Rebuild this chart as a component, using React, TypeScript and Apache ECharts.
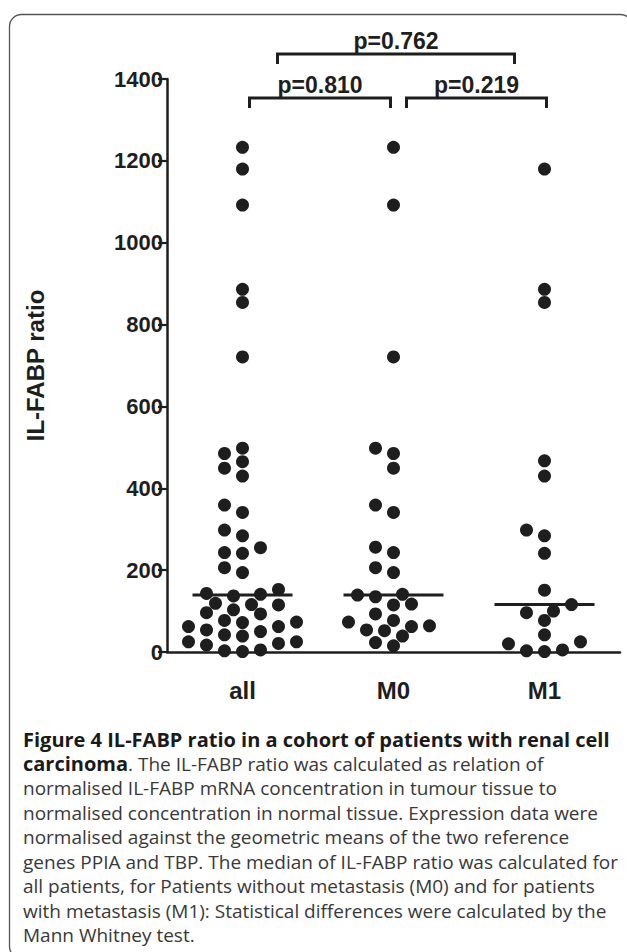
import React, { useEffect, useRef } from "react";
import * as echarts from "echarts";

// ---------- data ----------
const categories = ["all", "M0", "M1"];
const allValues = [1233, 1180, 1092, 886, 854, 721, 498, 485, 465, 449, 430, 359, 341, 298, 284, 255, 243, 241, 206, 194, 153, 143, 141, 137, 119, 116, 115, 103, 96, 93, 77, 73, 72, 62, 62, 54, 50, 42, 39, 25, 25, 21, 17, 5, 3, 1];
const m0Values = [1233, 1092, 721, 498, 485, 449, 359, 341, 256, 243, 206, 194, 141, 139, 135, 117, 115, 93, 77, 73, 64, 62, 54, 52, 39, 23, 15];
const m1Values = [1180, 886, 854, 467, 430, 298, 284, 241, 151, 116, 100, 96, 77, 42, 25, 20, 5, 3, 1];
const groups = [allValues, m0Values, m1Values];
const yMin = 0;
const yMax = 1400;
const yInterval = 200;
const yTitle = "IL-FABP ratio";
const pPairs = [[0, 1], [1, 2], [0, 2]];
const pLabels = ["p=0.810", "p=0.219", "p=0.762"];
const captionLines = [
  "{b|Figure 4 IL-FABP ratio in a cohort of patients with renal cell}",
  "{b|carcinoma}{r|. The IL-FABP ratio was calculated as relation of}",
  "{r|normalised IL-FABP mRNA concentration in tumour tissue to}",
  "{r|normalised concentration in normal tissue. Expression data were}",
  "{r|normalised against the geometric means of the two reference}",
  "{r|genes PPIA and TBP. The median of IL-FABP ratio was calculated for}",
  "{r|all patients, for Patients without metastasis (M0) and for patients}",
  "{r|with metastasis (M1): Statistical differences were calculated by the}",
  "{r|Mann Whitney test.}",
];

// ---------- layout / style ----------
const INK = "#1e1e1e";
const AXIS_FONT = '"Liberation Sans", Arial, sans-serif';
const CAPTION_FONT = '"Open Sans", sans-serif';
const DOT = 13;
const SWARM_MIN_DIST = 13;
const SWARM_STEP = 9;
const bracketInsetL = [7, 13, 35];
const bracketInsetR = [-3, 2, -30];
const bracketRise = [19, 19, -25];
const bracketLeg = 10;
const captionTop = 739;
const captionPitch = 24.5;

function median(v: number[]) {
  const s = [...v].sort((a, b) => a - b);
  const n = s.length;
  return n % 2 ? s[(n - 1) / 2] : (s[n / 2 - 1] + s[n / 2]) / 2;
}

// grid beeswarm in pixel space (column-scatter style): nearest free slot to the centre
function swarm(pys: number[]): number[] {
  const D = SWARM_MIN_DIST;
  const order = pys.map((_, i) => i).sort((a, b) => pys[b] - pys[a]);
  const placed: { x: number; y: number }[] = [];
  const res = new Array(pys.length).fill(0);
  const cands: number[] = [0];
  for (let k = 1; k <= 16; k++) cands.push(-k * SWARM_STEP, k * SWARM_STEP);
  for (const i of order) {
    const y = pys[i];
    for (const c of cands) {
      if (placed.every((p) => (p.x - c) ** 2 + (p.y - y) ** 2 >= D * D - 0.01)) {
        res[i] = c;
        placed.push({ x: c, y });
        break;
      }
    }
  }
  return res;
}

export default function App() {
  const ref = useRef<HTMLDivElement>(null);
  useEffect(() => {
    document.body.style.margin = "0";
    const chart = echarts.init(ref.current!, null, { renderer: "svg" });
    const base: any = {
      animation: false,
      backgroundColor: "#ffffff",
      grid: { left: 167, right: 7, top: 79, bottom: 300, containLabel: false },
      xAxis: [
        {
          type: "category",
          data: categories,
          boundaryGap: true,
          axisLine: { onZero: false, lineStyle: { color: INK, width: 2.5 } },
          axisTick: { show: false },
          axisLabel: { color: INK, fontSize: 24, fontWeight: "bold", fontFamily: AXIS_FONT, margin: 26 },
          splitLine: { show: false },
        },
        { type: "value", min: -0.5, max: 2.5, show: false },
      ],
      yAxis: {
        type: "value",
        min: yMin,
        max: yMax,
        interval: yInterval,
        name: yTitle,
        nameLocation: "middle",
        nameGap: 120,
        nameTextStyle: { color: INK, fontSize: 24, fontWeight: "bold", fontFamily: AXIS_FONT },
        axisLine: { show: true, onZero: false, lineStyle: { color: INK, width: 2.5 } },
        axisTick: { show: true, length: 9, lineStyle: { color: INK, width: 2.2 } },
        axisLabel: {
          color: INK,
          fontSize: 22,
          fontWeight: "bold",
          fontFamily: AXIS_FONT,
          margin: 4,
          formatter: (v: number) => String(v),
        },
        splitLine: { show: false },
      },
      series: [],
    };
    chart.setOption(base);

    const x0 = chart.convertToPixel({ xAxisIndex: 1 } as any, 0) as unknown as number;
    const x1 = chart.convertToPixel({ xAxisIndex: 1 } as any, 1) as unknown as number;
    const bandPx = x1 - x0;

    const pointData: number[][] = [];
    groups.forEach((vals, gi) => {
      const pys = vals.map((v) => chart.convertToPixel({ yAxisIndex: 0 } as any, v) as unknown as number);
      const offs = swarm(pys);
      vals.forEach((v, i) => pointData.push([gi + offs[i] / bandPx, v]));
    });
    const medianData = groups.map((vals, gi) => [gi, median(vals)]);

    const graphics: any[] = [
      {
        type: "rect",
        silent: true,
        shape: { x: 9.5, y: 14.5, width: 623, height: 944, r: 12 },
        style: { fill: "none", stroke: "#555", lineWidth: 1.3 },
      },
    ];
    captionLines.forEach((line, i) => {
      graphics.push({
        type: "text",
        x: 23,
        y: captionTop + i * captionPitch,
        silent: true,
        style: {
          text: line,
          verticalAlign: "middle",
          align: "left",
          rich: {
            b: { fontFamily: CAPTION_FONT, fontSize: 20, fontWeight: "bold", fill: "#1a1a1a" },
            r: { fontFamily: CAPTION_FONT, fontSize: 19, fontWeight: "normal", fill: "#383838" },
          },
        },
      });
    });

    chart.setOption({
      graphic: graphics,
      series: [
        {
          type: "scatter",
          xAxisIndex: 1,
          yAxisIndex: 0,
          symbol: "circle",
          symbolSize: DOT,
          itemStyle: { color: INK, opacity: 1 },
          data: pointData,
          z: 3,
        },
        {
          type: "scatter",
          xAxisIndex: 1,
          yAxisIndex: 0,
          symbol: "rect",
          symbolSize: [100, 3],
          itemStyle: { color: INK, opacity: 1 },
          data: medianData,
          z: 4,
        },
        {
          type: "custom",
          xAxisIndex: 1,
          yAxisIndex: 0,
          clip: false,
          data: pPairs.map((p, i) => [p[0], p[1], i]),
          renderItem: (params: any, api: any) => {
            const i = params.dataIndex;
            const a = api.coord([api.value(0), yMax]);
            const b = api.coord([api.value(1), yMax]);
            const xl = a[0] + bracketInsetL[i];
            const xr = b[0] + bracketInsetR[i];
            const yl = a[1] + bracketRise[i];
            return {
              type: "group",
              children: [
                {
                  type: "polyline",
                  shape: { points: [[xl, yl + bracketLeg], [xl, yl], [xr, yl], [xr, yl + bracketLeg]] },
                  style: { stroke: INK, lineWidth: 3, fill: "none" },
                },
                {
                  type: "text",
                  x: (xl + xr) / 2,
                  y: yl - 13,
                  style: {
                    text: pLabels[i],
                    fill: INK,
                    font: `bold 23px ${AXIS_FONT}`,
                    align: "center",
                    verticalAlign: "middle",
                  },
                },
              ],
            };
          },
          z: 5,
        },
      ],
    });
    return () => chart.dispose();
  }, []);
  return <div ref={ref} style={{ width: 627, height: 952 }} />;
}
